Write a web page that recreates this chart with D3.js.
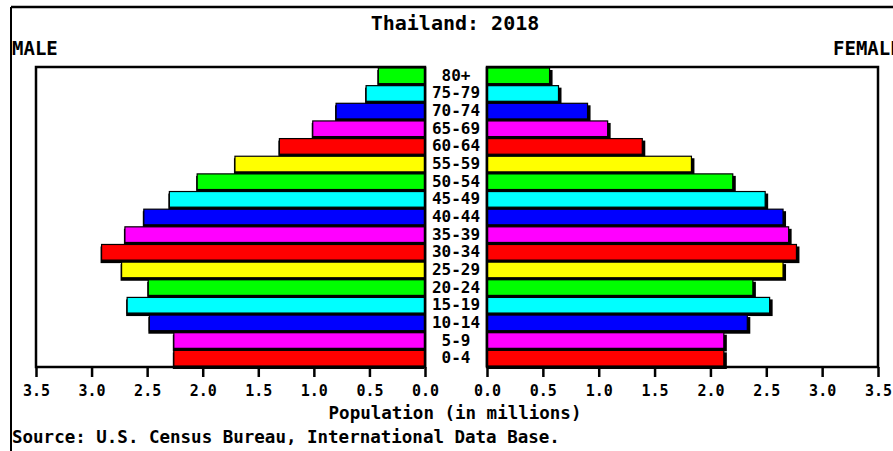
<!DOCTYPE html>
<html>
<head>
<meta charset="utf-8">
<script src="https://cdnjs.cloudflare.com/ajax/libs/d3/7.8.5/d3.min.js"></script>
<style>
  body { margin: 0; background: #fff; }
  text { font-family: "DejaVu Sans Mono", monospace; font-weight: bold; fill: #000; }
</style>
</head>
<body>
<div id="chart"></div>
<script>
// age groups, youngest first
var ageGroups = ["0-4", "5-9", "10-14", "15-19", "20-24", "25-29", "30-34", "35-39",
  "40-44", "45-49", "50-54", "55-59", "60-64", "65-69", "70-74", "75-79", "80+"];
// population in millions
var maleValues = [2.26, 2.26, 2.48, 2.68, 2.49, 2.73, 2.91, 2.70, 2.53, 2.30, 2.05, 1.71, 1.31, 1.01, 0.80, 0.53, 0.42];
var femaleValues = [2.12, 2.12, 2.33, 2.53, 2.38, 2.65, 2.77, 2.70, 2.65, 2.49, 2.20, 1.83, 1.39, 1.08, 0.90, 0.64, 0.56];
var tickValues = [0, 0.5, 1.0, 1.5, 2.0, 2.5, 3.0, 3.5];
var barColors = ["#ff0000", "#ff00ff", "#0000ff", "#00ffff", "#00ff00", "#ffff00"];

var W = 893, H = 451;
var plotTop = 67, plotBottom = 367;

var svg = d3.select("#chart").append("svg")
  .attr("width", W)
  .attr("height", H);

// outer frame (only top and left are visible)
svg.append("line").attr("x1", 11).attr("y1", 7).attr("x2", W).attr("y2", 7)
  .attr("stroke", "#000").attr("stroke-width", 2.5);
svg.append("line").attr("x1", 11).attr("y1", 7).attr("x2", 11).attr("y2", H)
  .attr("stroke", "#000").attr("stroke-width", 2);

// scales
var xMale = d3.scaleLinear().domain([0, 3.5]).range([425, 36]);
var xFemale = d3.scaleLinear().domain([0, 3.5]).range([487, 878]);
var y = d3.scaleBand().domain(ageGroups.slice().reverse()).range([plotTop, plotBottom]).padding(0);

var rows = ageGroups.map(function(a, i) {
  return { age: a, male: maleValues[i], female: femaleValues[i], color: barColors[i % barColors.length] };
});

// boxes
function box(x0, x1) {
  svg.append("rect")
    .attr("x", Math.min(x0, x1)).attr("y", plotTop)
    .attr("width", Math.abs(x1 - x0)).attr("height", plotBottom - plotTop)
    .attr("fill", "#fff").attr("stroke", "#000").attr("stroke-width", 2.5);
}
box(xMale(0), xMale(3.5));
box(xFemale(0), xFemale(3.5));

// shadows first
svg.append("g").selectAll("rect").data(rows).enter().append("rect")
  .attr("x", function(d) { return xMale(d.male) - 1; })
  .attr("y", function(d) { return y(d.age) + 3; })
  .attr("width", function(d) { return xMale(0) - xMale(d.male); })
  .attr("height", y.bandwidth() - 1)
  .attr("fill", "#000");
svg.append("g").selectAll("rect").data(rows).enter().append("rect")
  .attr("x", xFemale(0))
  .attr("y", function(d) { return y(d.age) + 3; })
  .attr("width", function(d) { return xFemale(d.female) - xFemale(0) + 3; })
  .attr("height", y.bandwidth() - 1)
  .attr("fill", "#000");

// bars
svg.append("g").selectAll("rect").data(rows).enter().append("rect")
  .attr("x", function(d) { return xMale(d.male); })
  .attr("y", function(d) { return y(d.age) + 1; })
  .attr("width", function(d) { return xMale(0) - xMale(d.male); })
  .attr("height", y.bandwidth() - 2)
  .attr("fill", function(d) { return d.color; })
  .attr("stroke", "#000").attr("stroke-width", 1.2);
svg.append("g").selectAll("rect").data(rows).enter().append("rect")
  .attr("x", xFemale(0))
  .attr("y", function(d) { return y(d.age) + 1; })
  .attr("width", function(d) { return xFemale(d.female) - xFemale(0); })
  .attr("height", y.bandwidth() - 2)
  .attr("fill", function(d) { return d.color; })
  .attr("stroke", "#000").attr("stroke-width", 1.2);

// redraw box edges on the zero side
svg.append("line").attr("x1", xMale(0)).attr("x2", xMale(0)).attr("y1", plotTop).attr("y2", plotBottom)
  .attr("stroke", "#000").attr("stroke-width", 2.5);
svg.append("line").attr("x1", xFemale(0)).attr("x2", xFemale(0)).attr("y1", plotTop).attr("y2", plotBottom)
  .attr("stroke", "#000").attr("stroke-width", 2.5);

// age labels
svg.append("g").selectAll("text").data(rows).enter().append("text")
  .attr("x", 456)
  .attr("y", function(d) { return y(d.age) + y.bandwidth() / 2 + 5; })
  .attr("text-anchor", "middle")
  .attr("font-size", 16)
  .text(function(d) { return d.age; });

// axes
function styleAxis(g) {
  g.select(".domain").remove();
  g.selectAll(".tick line").attr("stroke", "#000").attr("stroke-width", 2.5);
  g.selectAll(".tick text").attr("font-size", 15).attr("dy", 0).attr("y", 29)
    .style("font-family", "'DejaVu Sans Mono', monospace").style("font-weight", "bold");
}
svg.append("g").attr("transform", "translate(0," + plotBottom + ")")
  .call(d3.axisBottom(xMale).tickValues(tickValues).tickFormat(d3.format(".1f")).tickSize(10))
  .call(styleAxis);
svg.append("g").attr("transform", "translate(0," + plotBottom + ")")
  .call(d3.axisBottom(xFemale).tickValues(tickValues).tickFormat(d3.format(".1f")).tickSize(10))
  .call(styleAxis);

// titles
svg.append("text").attr("x", 455).attr("y", 30).attr("text-anchor", "middle")
  .attr("font-size", 20).text("Thailand: 2018");
svg.append("text").attr("x", 12).attr("y", 55).attr("font-size", 19).text("MALE");
svg.append("text").attr("x", 833).attr("y", 55).attr("font-size", 19).text("FEMALE");
svg.append("text").attr("x", 455).attr("y", 419).attr("text-anchor", "middle")
  .attr("font-size", 17.5).text("Population (in millions)");
svg.append("text").attr("x", 12).attr("y", 443)
  .attr("font-size", 17.5).text("Source: U.S. Census Bureau, International Data Base.");
</script>
</body>
</html>
